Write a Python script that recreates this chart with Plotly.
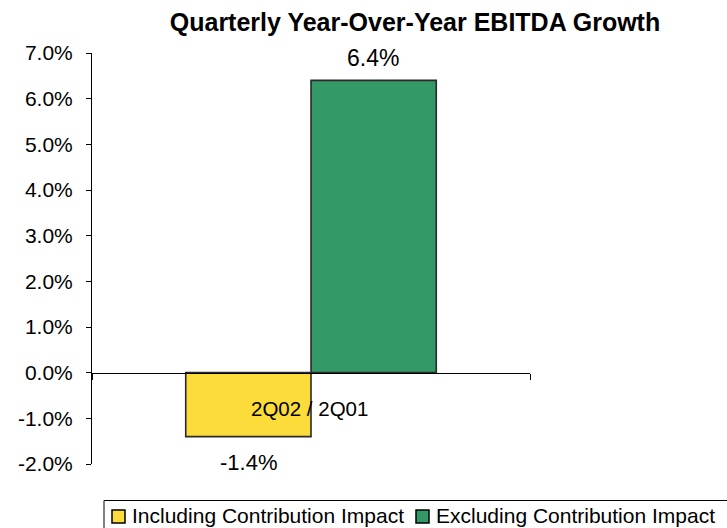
import plotly.graph_objects as go

# ---- data ----
categories = ["2Q02 / 2Q01"]
series_names = ["Including Contribution Impact", "Excluding Contribution Impact"]
including_vals = [-0.014]
excluding_vals = [0.064]
y_tick_vals = [-0.02, -0.01, 0.0, 0.01, 0.02, 0.03, 0.04, 0.05, 0.06, 0.07]
y_tick_text = ["-2.0%", "-1.0%", "0.0%", "1.0%", "2.0%", "3.0%", "4.0%", "5.0%", "6.0%", "7.0%"]
title_text = "Quarterly Year-Over-Year EBITDA Growth"

# ---- style ----
W, H = 727, 528
L, R, T, B = 92, 530, 53, 464  # plot area in pixels
colors = ["#FBDC3A", "#339966"]
FONT = "Arial, Liberation Sans, sans-serif"


def px_x(p):
    return (p - L) / (R - L)


def px_y(p):
    return (B - p) / (B - T)


def pct(v):
    return f"{v * 100:.1f}%"


fig = go.Figure()
for name, vals, col in zip(series_names, [including_vals, excluding_vals], colors):
    fig.add_trace(go.Bar(
        x=categories, y=vals, name=name,
        marker=dict(color=col, line=dict(color="#2a2a2a", width=1.6)),
        showlegend=False, hoverinfo="name+y",
    ))

annotations = []
# data labels
annotations.append(dict(x=categories[0], xref="x", y=excluding_vals[0], yref="y",
                        text=pct(excluding_vals[0]), showarrow=False,
                        xshift=62, yanchor="bottom", yshift=7,
                        font=dict(family=FONT, size=23, color="black")))
annotations.append(dict(x=categories[0], xref="x", y=including_vals[0], yref="y",
                        text=pct(including_vals[0]), showarrow=False,
                        xshift=-63, yanchor="top", yshift=-11,
                        font=dict(family=FONT, size=22, color="black")))
# category label
annotations.append(dict(x=categories[0], xref="x", y=0, yref="y",
                        text=categories[0], showarrow=False, yanchor="middle",
                        yshift=-36, xshift=-2,
                        font=dict(family=FONT, size=20.5, color="black")))

# legend (drawn as a boxed key at the bottom)
shapes = []
shapes.append(dict(type="rect", xref="paper", yref="paper",
                   x0=px_x(104), x1=px_x(760), y0=px_y(545), y1=px_y(500.5),
                   line=dict(color="black", width=1), fillcolor="rgba(0,0,0,0)"))
leg_items = [(112, 130), (416, 434)]
for (sq, tx), name, col in zip(leg_items, series_names, colors):
    shapes.append(dict(type="rect", xref="paper", yref="paper",
                       x0=px_x(sq), x1=px_x(sq + 13), y0=px_y(523), y1=px_y(510),
                       line=dict(color="black", width=1.5), fillcolor=col))
    annotations.append(dict(x=px_x(tx), xref="paper", y=px_y(515.5), yref="paper",
                            xanchor="left", yanchor="middle", text=name, showarrow=False,
                            font=dict(family=FONT, size=21, color="black")))

fig.update_layout(
    width=W, height=H,
    margin=dict(l=L, r=W - R, t=T, b=H - B, autoexpand=False),
    paper_bgcolor="white", plot_bgcolor="white",
    barmode="group", bargap=0.428, bargroupgap=0,
    font=dict(family=FONT, size=20, color="black"),
    title=dict(text=f"<b>{title_text}</b>", x=415 / W, xref="container", xanchor="center",
               y=1 - 22 / H, yref="container", yanchor="middle",
               font=dict(family=FONT, size=25, color="black")),
    xaxis=dict(type="category", range=[-0.5, 0.5], anchor="free", position=px_y(373),
               showline=True, linecolor="black", linewidth=1,
               ticks="outside", tickson="boundaries", ticklen=6, tickcolor="black",
               showticklabels=False, showgrid=False, zeroline=False),
    yaxis=dict(range=[-0.02, 0.07], tickvals=y_tick_vals, ticktext=y_tick_text,
               showline=True, linecolor="black", linewidth=1,
               ticks="outside", ticklen=5, tickcolor="black",
               ticklabelstandoff=9,
               showgrid=False, zeroline=False,
               tickfont=dict(family=FONT, size=21, color="black")),
    annotations=annotations,
    shapes=shapes,
)

fig.write_html("out.html")
